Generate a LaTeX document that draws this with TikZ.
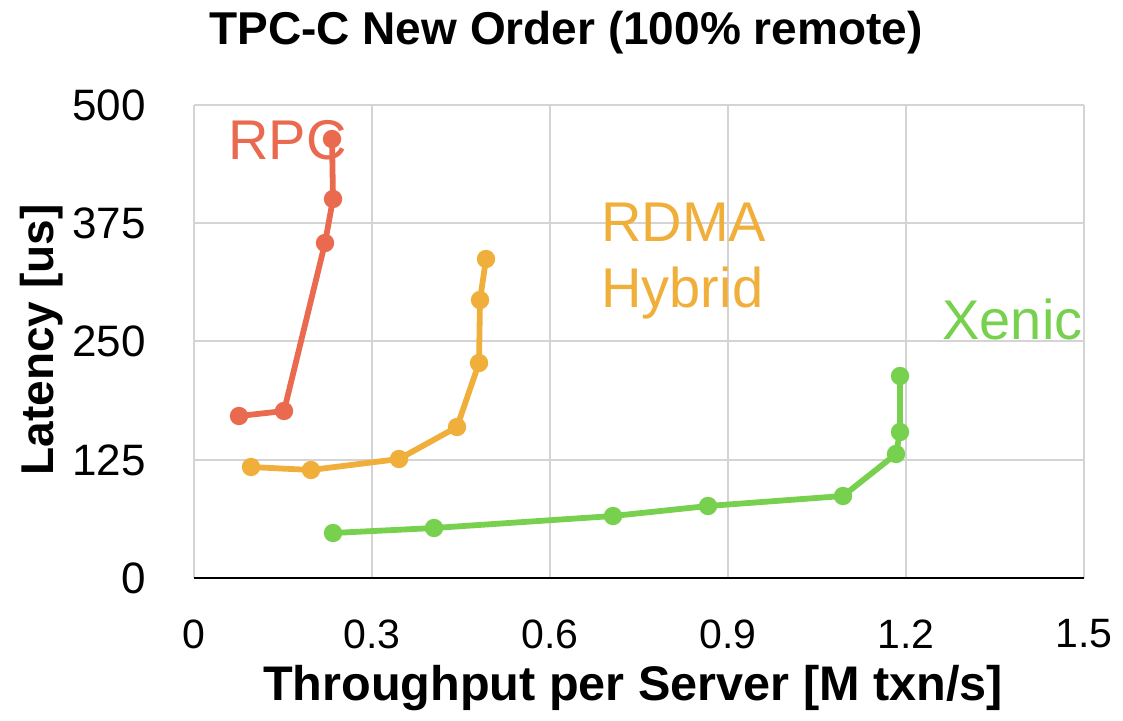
\documentclass[tikz,border=0pt]{standalone}
\usepackage{fontspec}
\setmainfont{Liberation Sans}
\definecolor{rpccol}{HTML}{EA6A50}
\definecolor{rdmacol}{HTML}{F0AF3B}
\definecolor{xeniccol}{HTML}{78D04F}
\definecolor{gridgray}{HTML}{D4D4D4}
\begin{document}
\begin{tikzpicture}[x=0.5pt,y=-0.5pt,
  gridline/.style={draw=gridgray,line width=0.75pt},
  axisline/.style={draw=black,line width=1.1pt},
  series/.style={line width=2.9pt,line join=round,line cap=round},
  ytick/.style={anchor=east,inner sep=0pt,font=\fontsize{22}{26}\selectfont},
  xtick/.style={anchor=center,inner sep=0pt,font=\fontsize{20.5}{24}\selectfont},
  axtitle/.style={inner sep=0pt,font=\bfseries\fontsize{23}{27}\selectfont},
  serieslabel/.style={anchor=base west,inner sep=0pt,font=\fontsize{28}{33}\selectfont}]
\useasboundingbox (0,0) rectangle (1123,721);

% grid
\foreach \gx in {194,372,550,728,906,1084}
  \draw[gridline] (\gx,105) -- (\gx,578);
\foreach \gy in {105,223,341,460}
  \draw[gridline] (194,\gy) -- (1084,\gy);
\draw[axisline] (194,578) -- (1084,578);

% tick labels
\node[ytick] (y500) at (146,105) {500};
\node[ytick] (y375) at (146,223) {375};
\node[ytick] (y250) at (146,341) {250};
\node[ytick] (y125) at (146,460) {125};
\node[ytick] (y0)   at (146,578) {0};
\node[xtick] (x0)  at (194,634) {0};
\node[xtick] (x03) at (372,634) {0.3};
\node[xtick] (x06) at (550,634) {0.6};
\node[xtick] (x09) at (728,634) {0.9};
\node[xtick] (x12) at (906,634) {1.2};
\node[xtick] (x15) at (1084,634) {1.5};

% titles
\node[axtitle,anchor=base] (title) at (566,45) {TPC-C New Order (100\% remote)};
\node[axtitle,anchor=base,font=\bfseries\fontsize{24.3}{28}\selectfont] (xlabel) at (633,700) {Throughput per Server [M txn/s]};
\node[axtitle,anchor=center,rotate=90] (ylabel) at (42,340) {Latency [us]};

% series labels
\node[serieslabel,text=rpccol] (rpclabel) at (228,160) {RPC};
\node[serieslabel,text=rdmacol] (rdmalabel) at (601,242) {RDMA};
\node[serieslabel,text=rdmacol] (hyblabel) at (601,308) {Hybrid};
\node[serieslabel,text=xeniccol] (xeniclabel) at (942,340) {Xenic};

% RPC
\coordinate (r1) at (239,416);
\coordinate (r2) at (284,411);
\coordinate (r3) at (325,243);
\coordinate (r4) at (333,199);
\coordinate (r5) at (332,139);
\draw[series,rpccol] (r1) -- (r2) -- (r3) -- (r4) -- (r5);
\foreach \p in {r1,r2,r3,r4,r5} \fill[rpccol] (\p) circle (4.6pt);

% RDMA Hybrid
\coordinate (h1) at (251,467);
\coordinate (h2) at (311,470);
\coordinate (h3) at (399,459);
\coordinate (h4) at (457,427);
\coordinate (h5) at (479,363);
\coordinate (h6) at (480,300);
\coordinate (h7) at (486,259);
\draw[series,rdmacol] (h1) -- (h2) -- (h3) -- (h4) -- (h5) -- (h6) -- (h7);
\foreach \p in {h1,h2,h3,h4,h5,h6,h7} \fill[rdmacol] (\p) circle (4.6pt);

% Xenic
\coordinate (g1) at (333,533);
\coordinate (g2) at (434,528);
\coordinate (g3) at (613,516);
\coordinate (g4) at (708,506);
\coordinate (g5) at (843,496);
\coordinate (g6) at (896,454);
\coordinate (g7) at (900,432);
\coordinate (g8) at (900,376);
\draw[series,xeniccol] (g1) -- (g2) -- (g3) -- (g4) -- (g5) -- (g6) -- (g7) -- (g8);
\foreach \p in {g1,g2,g3,g4,g5,g6,g7,g8} \fill[xeniccol] (\p) circle (4.6pt);
\end{tikzpicture}
\end{document}
